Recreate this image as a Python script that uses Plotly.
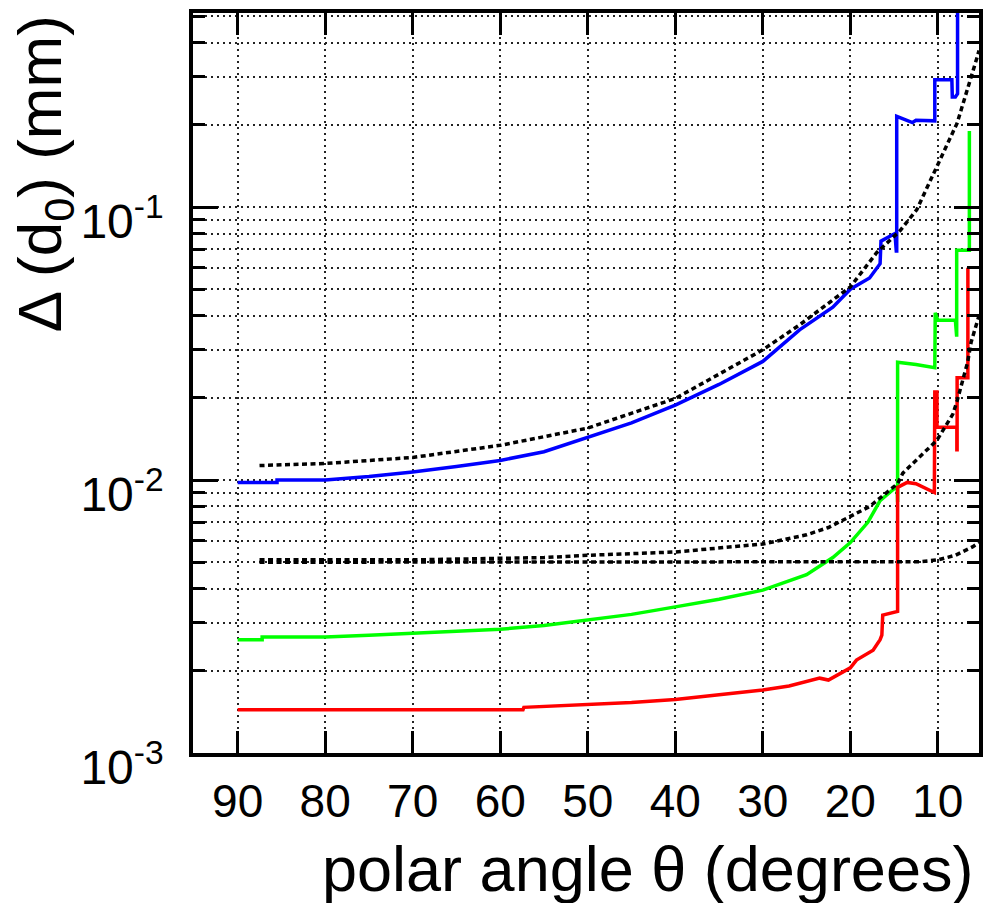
import plotly.graph_objects as go

# ---- data ----
blue_theta = [90, 85.5, 85.5, 80, 75, 70, 65, 60, 55, 50, 45, 40, 35, 30, 25.8, 22, 20, 17.8, 16.6, 16.5, 15.5, 14.9, 14.75, 14.7,
              14.7, 12.9, 12.5, 10.35, 10.35, 8.4, 8.35, 8.0, 7.75, 7.75]
blue_val = [0.0098, 0.0098, 0.0100, 0.0100, 0.0103, 0.0107, 0.0112, 0.0118, 0.0127, 0.0143, 0.0162, 0.0188, 0.0224, 0.0272, 0.0355, 0.043, 0.050, 0.055, 0.062, 0.075, 0.078, 0.080, 0.069, 0.069,
            0.215, 0.204, 0.208, 0.207, 0.293, 0.293, 0.253, 0.253, 0.26, 0.7]

green_theta = [90, 87.2, 87.2, 80, 75, 70, 65, 60, 55, 50, 45, 40, 35, 30, 25, 22, 20, 18, 16.6, 15.5, 14.65, 14.6, 14.6,
               12.5, 10.4, 10.35, 10.3, 10.0, 8.0, 7.85, 7.85, 6.4, 6.4]
green_val = [0.00260, 0.00260, 0.00266, 0.00266, 0.00270, 0.00275, 0.00279, 0.00284, 0.00293, 0.00307, 0.00322, 0.00343, 0.00366, 0.00395, 0.0045, 0.0052, 0.0059, 0.0070, 0.0084, 0.0090, 0.0095, 0.0083, 0.027,
             0.0265, 0.0258, 0.0258, 0.041, 0.0385, 0.0385, 0.0335, 0.0695, 0.0695, 0.19]

red_theta = [90, 57.4, 57.3, 50, 45, 40, 35, 30, 27, 25, 23.5, 22.5, 20, 19.3, 17.4, 16.6, 16.4, 16.3, 14.6, 14.6,
             13.5, 12.5, 10.4, 10.35, 10.1, 10.1, 7.83, 7.83, 7.8, 7.8, 6.57, 6.57]
red_val = [0.00144, 0.00144, 0.00147, 0.00150, 0.00153, 0.00157, 0.00163, 0.00170, 0.00176, 0.00182, 0.00188, 0.00185, 0.00205, 0.00219, 0.00238, 0.0026, 0.0027, 0.0032, 0.0033, 0.0094,
           0.0098, 0.0097, 0.0090, 0.021, 0.021, 0.0156, 0.0156, 0.0129, 0.0129, 0.0237, 0.0237, 0.060]

dotA_theta = [87.5, 80, 70, 60, 50, 40, 30, 25.8, 23.1, 20, 17, 14.3, 12.4, 9.8, 7.8, 5.5, 5.3]
dotA_val = [0.0113, 0.0115, 0.0121, 0.0134, 0.0155, 0.0199, 0.030, 0.037, 0.043, 0.051, 0.068, 0.082, 0.098, 0.149, 0.203, 0.355, 0.375]

dotB_theta = [87.5, 70, 50, 30, 20, 12, 10, 8, 6, 5.3]
dotB_val = [0.0050, 0.0050, 0.0050, 0.0050, 0.0050, 0.00502, 0.0051, 0.0053, 0.0057, 0.0059]

dotC_theta = [87.5, 70, 55, 50, 40, 30, 25, 22.5, 17.8, 14.6, 14.0, 10.1, 8.3, 7.8, 6.6, 6.2, 5.3]
dotC_val = [0.0051, 0.0051, 0.0052, 0.0053, 0.00545, 0.00583, 0.0063, 0.0067, 0.0080, 0.0097, 0.0106, 0.0140, 0.0174, 0.0195, 0.027, 0.032, 0.040]

x_ticks = [90, 80, 70, 60, 50, 40, 30, 20, 10]
y_major = [0.001, 0.01, 0.1]
y_major_text = ["10<sup>-3</sup>", "10<sup>-2</sup>", "10<sup>-1</sup>"]
y_minor = [m * d for d in (0.001, 0.01, 0.1) for m in range(2, 10)]

FONT = "Liberation Sans, Arial, sans-serif"
GRID = dict(showgrid=True, gridcolor="#222", gridwidth=1.5, griddash="2px,4px")

fig = go.Figure()
for th, v, c in [(blue_theta, blue_val, "#0000ff"), (green_theta, green_val, "#00ff00"), (red_theta, red_val, "#ff0000")]:
    fig.add_trace(go.Scatter(x=th, y=v, mode="lines", line=dict(color=c, width=3.5), showlegend=False))
for th, v in [(dotA_theta, dotA_val), (dotB_theta, dotB_val), (dotC_theta, dotC_val)]:
    fig.add_trace(go.Scatter(x=th, y=v, mode="lines", line=dict(color="black", width=3.5, dash="5px,3.5px"), showlegend=False))

fig.update_layout(
    width=984, height=903,
    margin=dict(l=193, r=5, t=13, b=150, autoexpand=False),
    paper_bgcolor="white", plot_bgcolor="white",
    font=dict(family=FONT, color="black"),
    xaxis=dict(
        range=[95.1, 5.3], tickmode="array", tickvals=x_ticks, ticktext=[str(t) for t in x_ticks],
        ticks="inside", ticklen=22, tickwidth=3, tickcolor="black", mirror="allticks",
        showline=True, linewidth=3.5, linecolor="black",
        tickfont=dict(size=46, family=FONT), ticklabelstandoff=5, zeroline=False, **GRID,
    ),
    yaxis=dict(
        type="log", range=[-3, -0.289], tickmode="array", tickvals=y_major, ticktext=y_major_text,
        ticks="inside", ticklen=25, tickwidth=3, tickcolor="black", mirror="allticks",
        showline=True, linewidth=3.5, linecolor="black",
        tickfont=dict(size=48, family=FONT), ticklabelstandoff=16, ticklabelshift=14, zeroline=False, **GRID,
        minor=dict(tickmode="array", tickvals=y_minor, ticks="inside", ticklen=12, tickwidth=3, tickcolor="black", **GRID),
    ),
    annotations=[
        dict(text="polar angle θ (degrees)", xref="paper", yref="paper", x=0.995, y=-0.1574,
             xanchor="right", yanchor="middle", showarrow=False, font=dict(size=63, family=FONT, color="black")),
        dict(text="Δ (d<sub>0</sub>) (mm)", xref="paper", yref="paper", x=-0.19, y=1.0,
             xanchor="center", yanchor="top", textangle=-90, showarrow=False,
             font=dict(size=62, family=FONT, color="black")),
    ],
)

fig.write_html("out.html")
